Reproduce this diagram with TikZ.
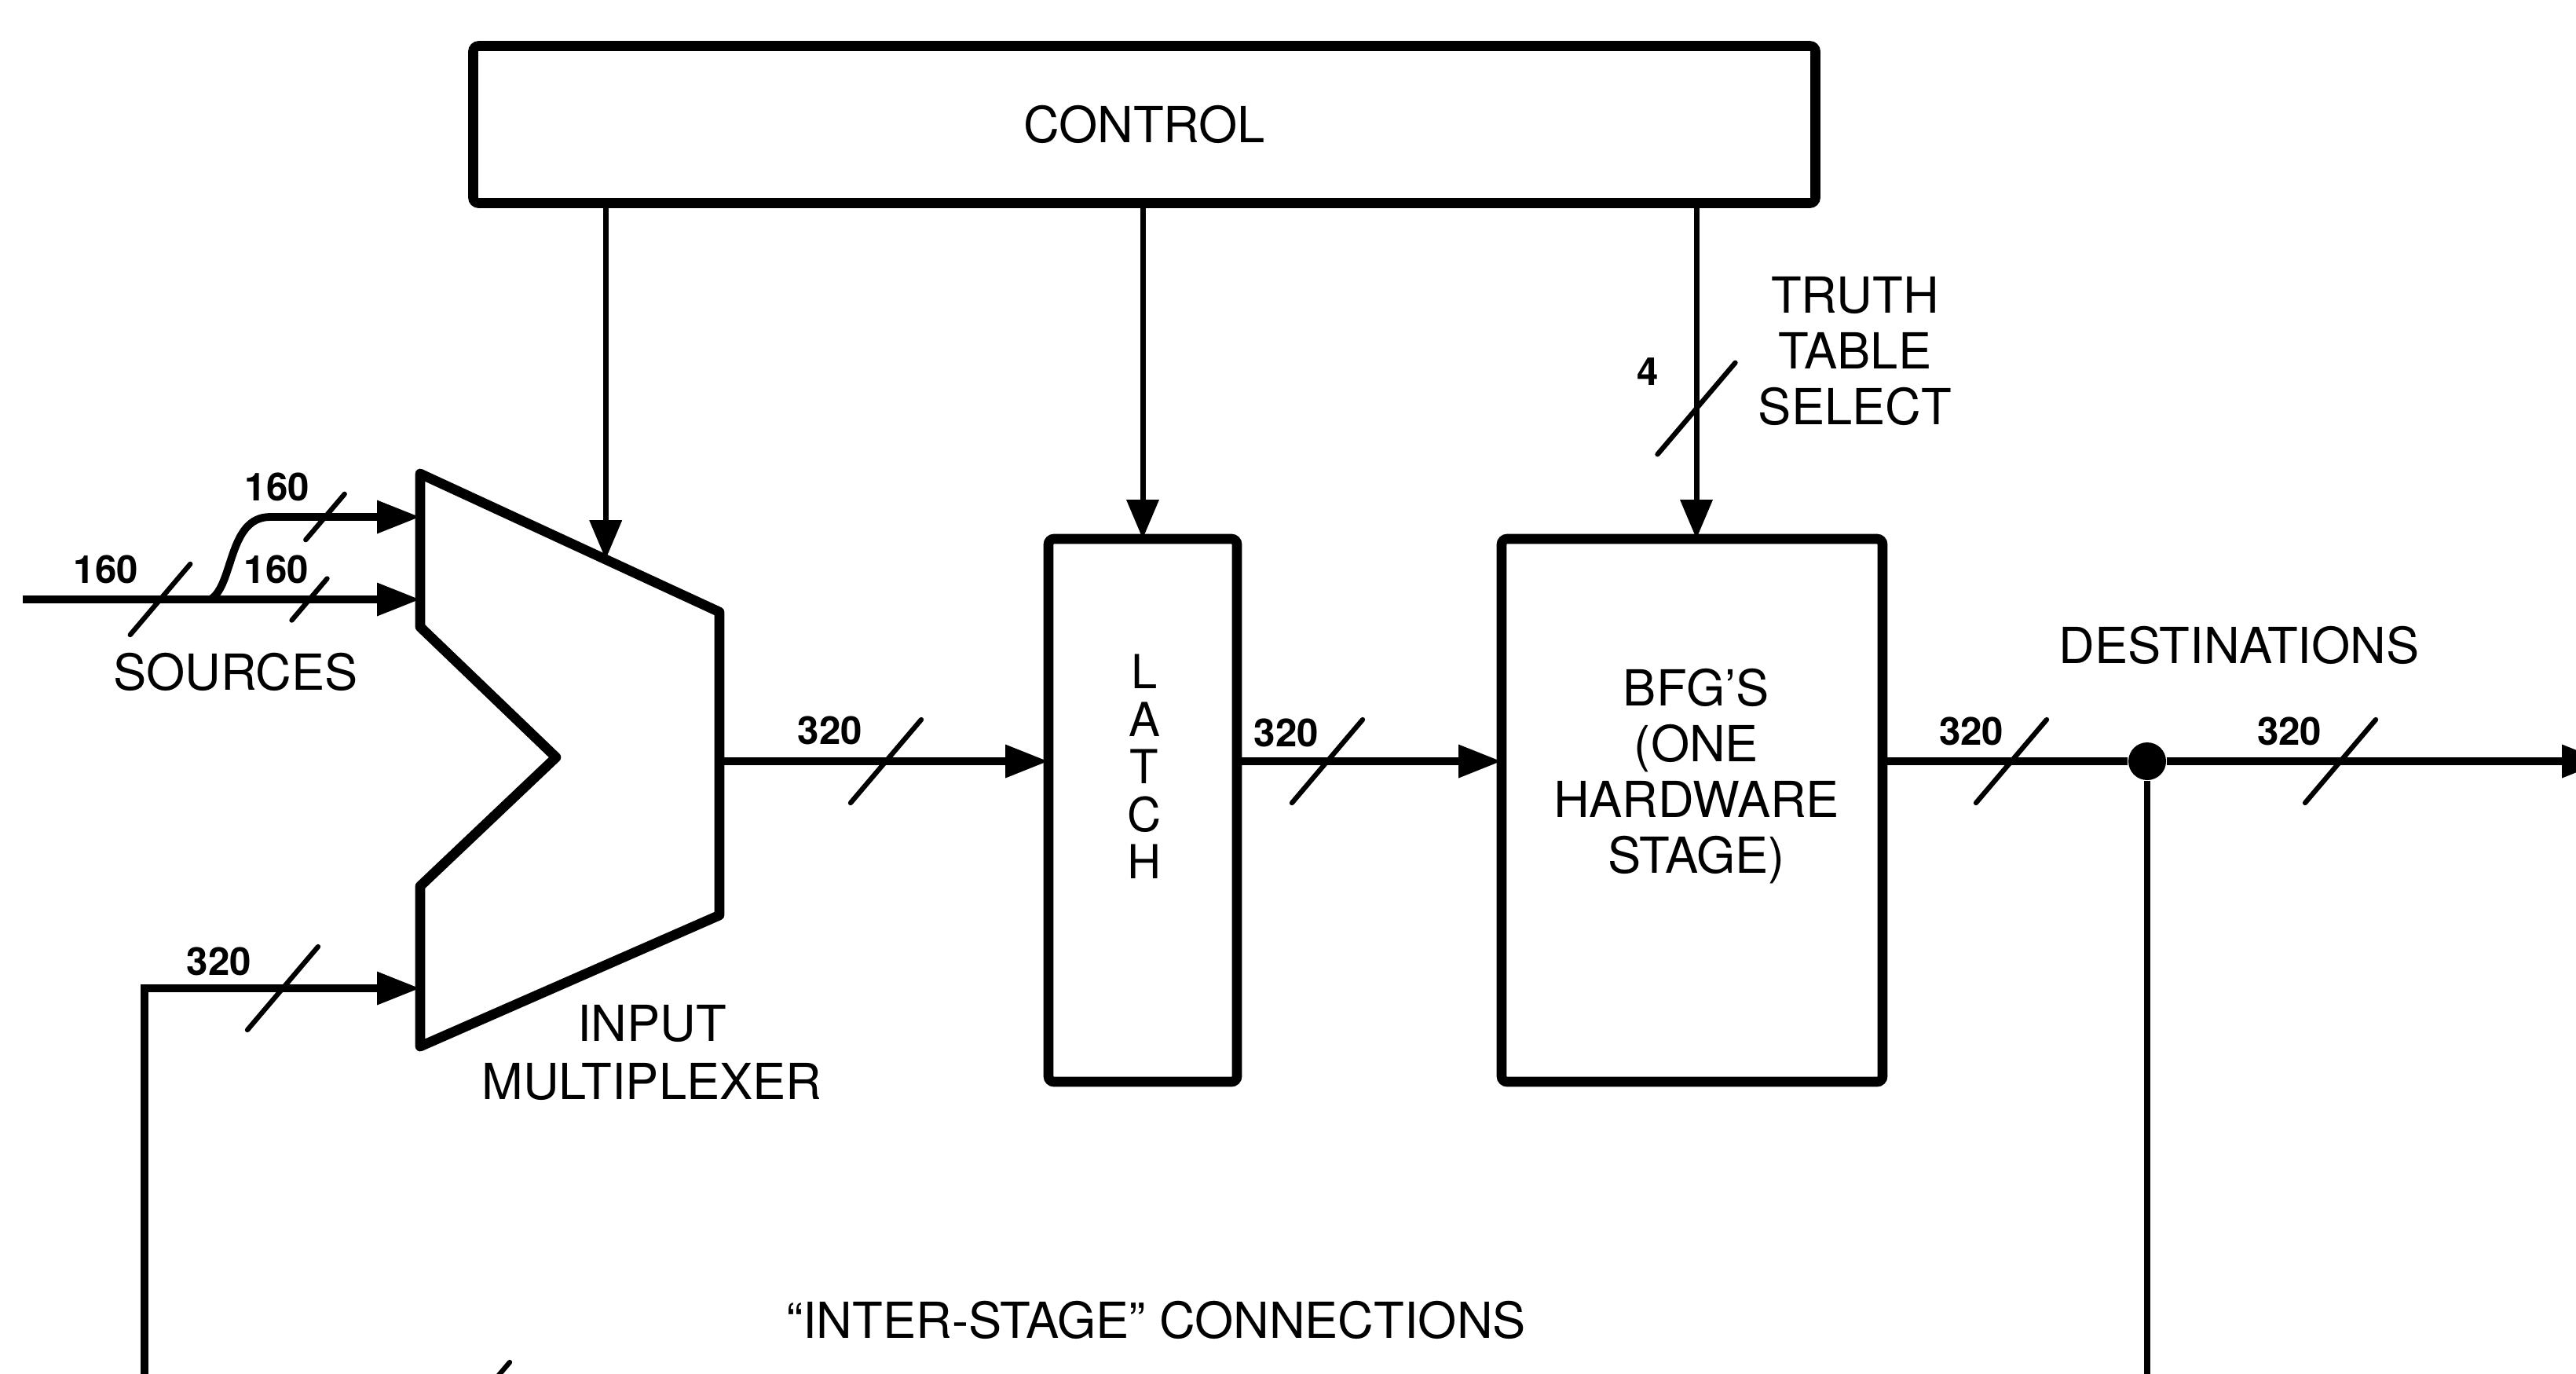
\documentclass[tikz,border=0pt]{standalone}
\usepackage{fontspec}
\setmainfont{TeX Gyre Heros}
\usetikzlibrary{positioning,arrows.meta,calc}

\begin{document}
\begin{tikzpicture}[
	box/.style={rectangle, rounded corners=2pt, draw=black, line width=3.6pt,
		outer sep=0pt, inner sep=0pt, align=center, font=\fontsize{18}{20}\selectfont},
	lbl/.style={inner sep=0pt, align=center, font=\fontsize{18}{20.2}\selectfont},
	buslabel/.style={inner sep=0pt, font=\fontsize{14}{16}\selectfont\bfseries},
	bus/.style={line width=2.8pt, -{Triangle[length=5.5mm,width=4mm]}},
	wire/.style={line width=2.8pt},
	ctrl/.style={line width=2pt, -{Triangle[length=5mm,width=4mm]}},
	busmark/.pic={\draw[line width=1.8pt, line cap=round] (-0.45,-0.53) -- (0.45,0.53);}
	]
	\useasboundingbox (0,0) rectangle (32.8,-17.48);
	\clip (0,0) rectangle (32.8,-17.48);

	% blocks
	\node[box, minimum width=17.09cm, minimum height=2.0cm] (ctl) at (14.57,-1.585) {CONTROL};
	\node[box, minimum width=2.40cm, minimum height=6.91cm] (latch) at (14.55,-10.315) {};
	\node[box, minimum width=4.85cm, minimum height=6.91cm, right=3.37cm of latch] (bfg) {};
	\node[lbl, font=\fontsize{17}{17.2}\selectfont] (latchtxt) at (14.57,-9.76) {L\\A\\T\\C\\H};
	\node[lbl] (bfgtxt) at (21.6,-9.88) {BFG'S\\(ONE\\HARDWARE\\STAGE)};

	% input multiplexer
	\draw[line width=3.6pt, line join=round]
		(5.35,-6.03) coordinate (mTL) -- coordinate[pos=0.62] (mctl)
		(9.16,-7.79) coordinate (mTR) -- (9.16,-11.65) coordinate (mBR) --
		(5.35,-13.32) coordinate (mBL) -- (5.35,-11.28) -- (7.08,-9.64) coordinate (mnotch) --
		(5.35,-7.98) -- cycle;
	\coordinate (mout) at (9.16,-9.69);

	% sources
	\coordinate (src) at (0.29,-7.63);
	\coordinate (split) at (2.68,-7.63);
	\coordinate (up) at (3.44,-6.58);
	\draw[bus] (src) -- (src -| mTL);
	\draw[bus] (split) .. controls (2.98,-7.45) and (2.9,-6.58) .. (up) -- (up -| mTL);
	\pic[scale=0.85] at (2.04,-7.63) {busmark};
	\pic[scale=0.55] at (4.14,-6.58) {busmark};
	\pic[scale=0.5] at (3.94,-7.63) {busmark};
	\node[buslabel] (w0) at (1.35,-7.25) {160};
	\node[buslabel] (w1) at (3.53,-6.20) {160};
	\node[buslabel] (w2) at (3.52,-7.25) {160};
	\node[lbl] (srclbl) at (3.0,-8.55) {SOURCES};
	\node[lbl, font=\fontsize{18}{21.3}\selectfont] (muxlbl) at (8.3,-13.4) {INPUT\\MULTIPLEXER};

	% control lines
	\coordinate (tts) at (21.6,-5.2);
	\draw[ctrl] (ctl.south -| mctl) -- (mctl);
	\draw[ctrl] (ctl.south -| latch.north) -- (latch.north);
	\draw[ctrl] (ctl.south -| tts) -- (bfg.north -| tts);
	\pic[scale=1.1] at (tts) {busmark};
	\node[buslabel] (w8) at (20.98,-4.73) {4};
	\node[lbl] (ttslbl) at (23.62,-4.47) {TRUTH\\TABLE\\SELECT};

	% data path
	\node[circle, fill=black, inner sep=0pt, minimum size=0.48cm] (junc) at (27.34,-9.69) {};
	\coordinate (dest) at (33.17,-9.69);
	\draw[bus] (mout) -- (latch.west |- mout);
	\draw[bus] (latch.east |- mout) -- (bfg.west |- mout);
	\draw[wire] (bfg.east |- mout) -- (junc);
	\draw[bus] (junc) -- (dest);
	\pic at (11.28,-9.69) {busmark};
	\pic at (16.90,-9.69) {busmark};
	\pic at (25.61,-9.69) {busmark};
	\pic at (29.80,-9.69) {busmark};
	\node[buslabel] (w3) at (10.57,-9.30) {320};
	\node[buslabel] (w4) at (16.38,-9.33) {320};
	\node[buslabel] (w5) at (25.10,-9.31) {320};
	\node[buslabel] (w6) at (29.15,-9.31) {320};
	\node[lbl] (destlbl) at (28.51,-8.21) {DESTINATIONS};

	% inter-stage feedback
	\coordinate (fbR) at (27.34,-17.87);
	\coordinate (fbL) at (1.84,-17.87);
	\coordinate (fbin) at (5.35,-12.58);
	\draw[line width=2.2pt] (junc) -- (fbR);
	\draw[bus] (fbR) -- (fbL) |- (fbin);
	\pic at (3.60,-12.58) {busmark};
	\pic at (6.04,-17.87) {busmark};
	\node[buslabel] (w7) at (2.79,-12.24) {320};
	\node[lbl] (fblbl) at (14.72,-16.80) {``INTER-STAGE'' CONNECTIONS};
\end{tikzpicture}
\end{document}
